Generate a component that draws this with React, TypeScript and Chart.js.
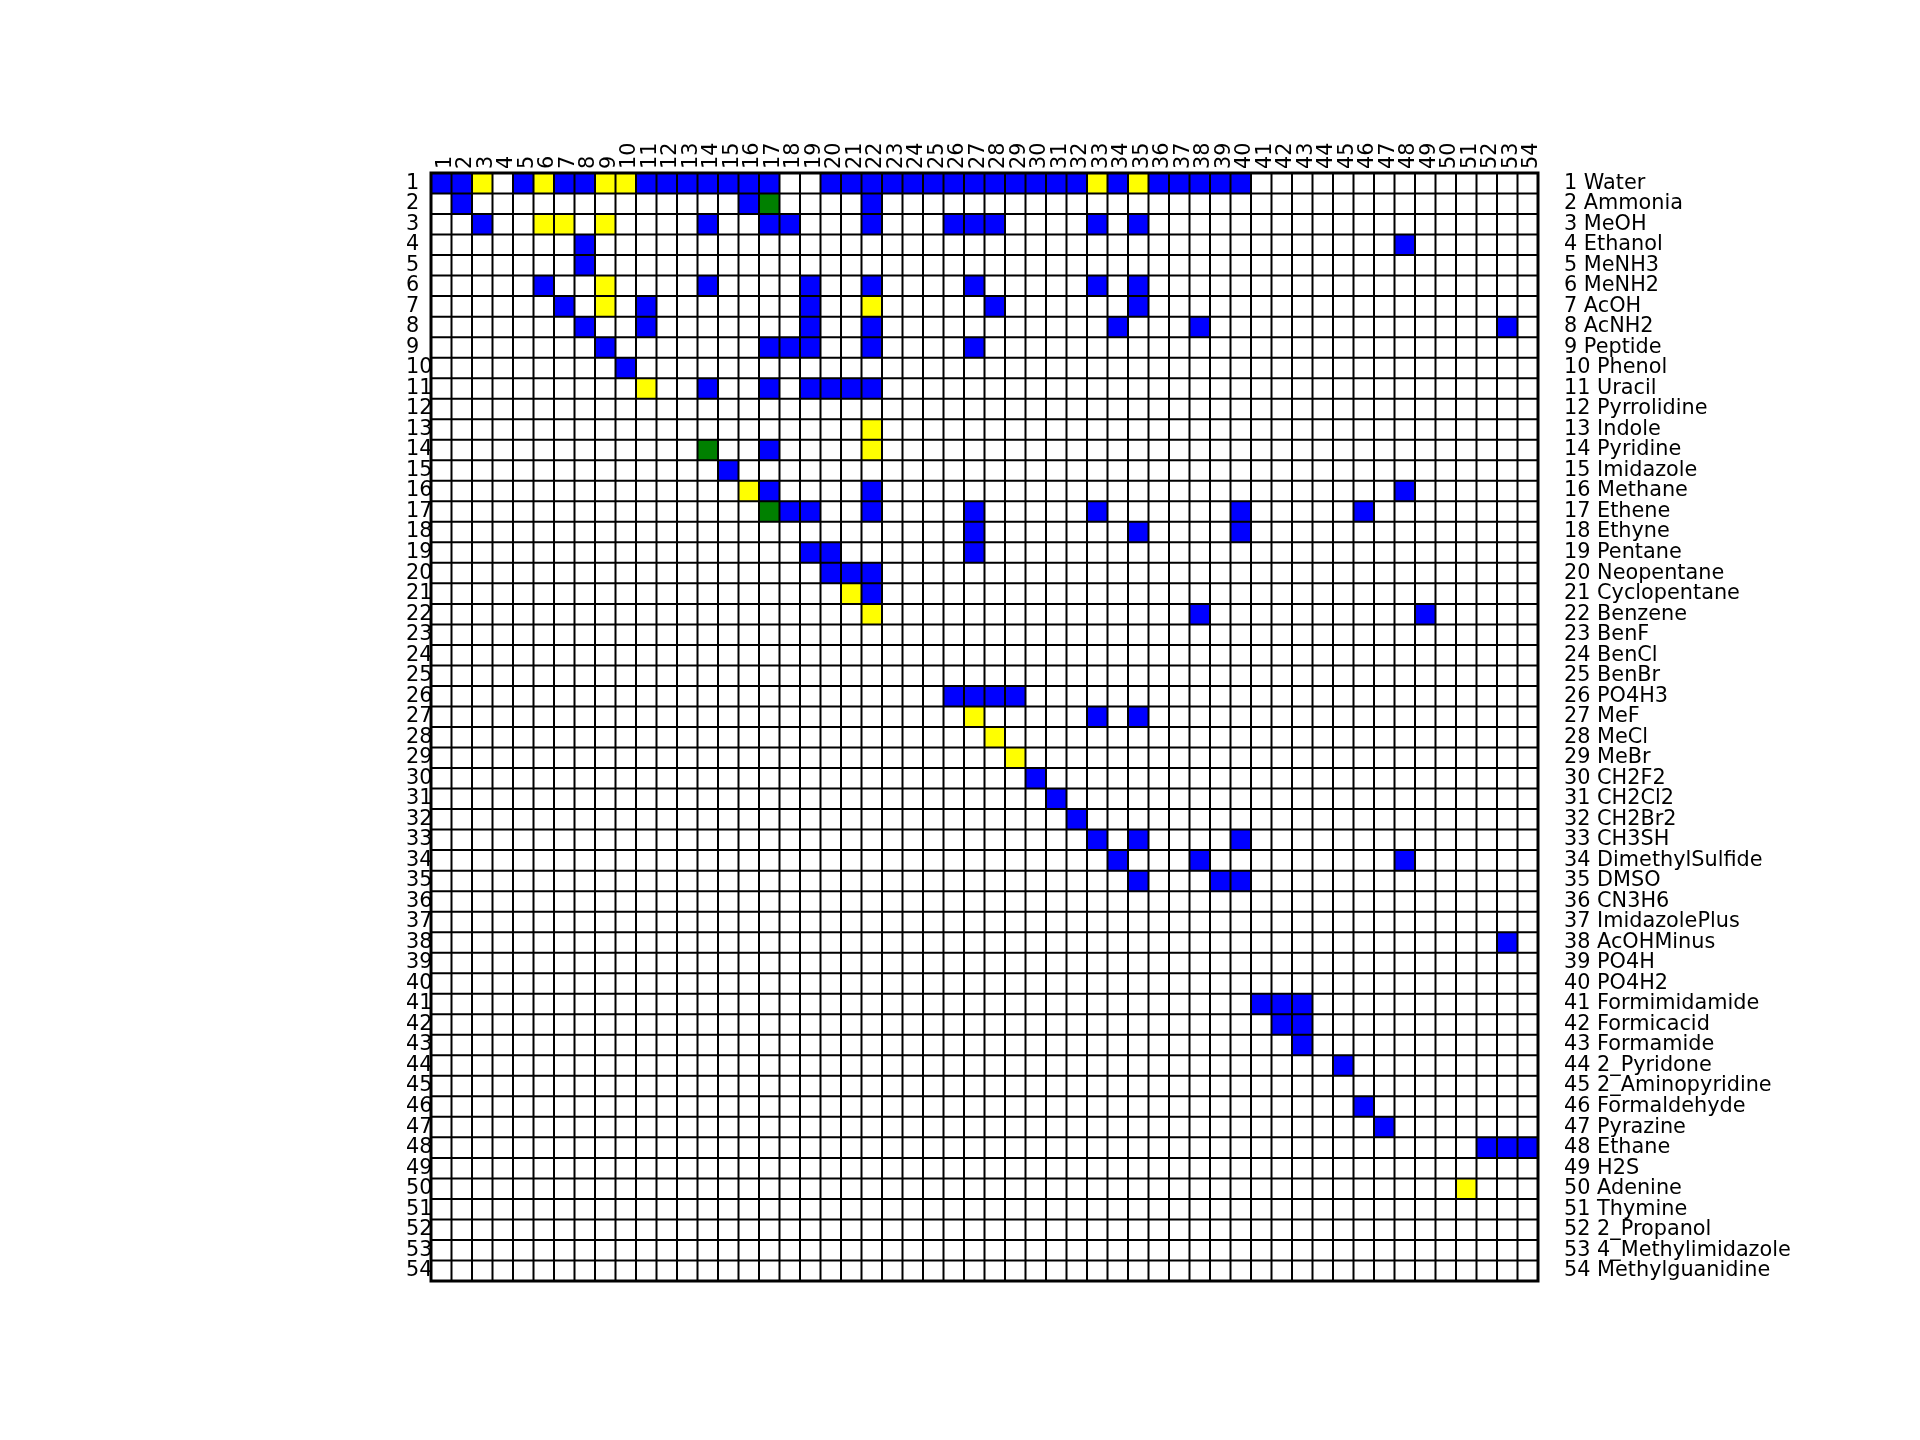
import React, { useEffect, useRef } from "react";
import { Chart, registerables } from "chart.js";

Chart.register(...registerables);

const indexLabels = [
  "1", "2", "3", "4", "5", "6", "7", "8", "9", "10",
  "11", "12", "13", "14", "15", "16", "17", "18", "19", "20",
  "21", "22", "23", "24", "25", "26", "27", "28", "29", "30",
  "31", "32", "33", "34", "35", "36", "37", "38", "39", "40",
  "41", "42", "43", "44", "45", "46", "47", "48", "49", "50",
  "51", "52", "53", "54",
];

const moleculeNames = [
  "Water", "Ammonia", "MeOH", "Ethanol", "MeNH3", "MeNH2", "AcOH", "AcNH2", "Peptide", "Phenol",
  "Uracil", "Pyrrolidine", "Indole", "Pyridine", "Imidazole", "Methane", "Ethene", "Ethyne", "Pentane", "Neopentane",
  "Cyclopentane", "Benzene", "BenF", "BenCl", "BenBr", "PO4H3", "MeF", "MeCl", "MeBr", "CH2F2",
  "CH2Cl2", "CH2Br2", "CH3SH", "DimethylSulfide", "DMSO", "CN3H6", "ImidazolePlus", "AcOHMinus", "PO4H", "PO4H2",
  "Formimidamide", "Formicacid", "Formamide", "2_Pyridone", "2_Aminopyridine", "Formaldehyde", "Pyrazine", "Ethane", "H2S", "Adenine",
  "Thymine", "2_Propanol", "4_Methylimidazole", "Methylguanidine",
];

// [row, columns] of the blue cells
const blueRows: [number, number[]][] = [
  [1, [1, 2, 5, 7, 8, 11, 12, 13, 14, 15, 16, 17, 20, 21, 22, 23, 24, 25, 26, 27, 28, 29, 30, 31, 32, 34, 36, 37, 38, 39, 40]],
  [2, [2, 16, 22]],
  [3, [3, 14, 17, 18, 22, 26, 27, 28, 33, 35]],
  [4, [8, 48]],
  [5, [8]],
  [6, [6, 14, 19, 22, 27, 33, 35]],
  [7, [7, 11, 19, 28, 35]],
  [8, [8, 11, 19, 22, 34, 38, 53]],
  [9, [9, 17, 18, 19, 22, 27]],
  [10, [10]],
  [11, [14, 17, 19, 20, 21, 22]],
  [14, [17]],
  [15, [15]],
  [16, [17, 22, 48]],
  [17, [18, 19, 22, 27, 33, 40, 46]],
  [18, [27, 35, 40]],
  [19, [19, 20, 27]],
  [20, [20, 21, 22]],
  [21, [22]],
  [22, [38, 49]],
  [26, [26, 27, 28, 29]],
  [27, [33, 35]],
  [30, [30]],
  [31, [31]],
  [32, [32]],
  [33, [33, 35, 40]],
  [34, [34, 38, 48]],
  [35, [35, 39, 40]],
  [38, [53]],
  [41, [41, 42, 43]],
  [42, [42, 43]],
  [43, [43]],
  [44, [45]],
  [46, [46]],
  [47, [47]],
  [48, [52, 53, 54]],
];

// [row, columns] of the yellow cells
const yellowRows: [number, number[]][] = [
  [1, [3, 6, 9, 10, 33, 35]],
  [3, [6, 7, 9]],
  [6, [9]],
  [7, [9, 22]],
  [11, [11]],
  [13, [22]],
  [14, [22]],
  [16, [16]],
  [21, [21]],
  [22, [22]],
  [27, [27]],
  [28, [28]],
  [29, [29]],
  [50, [51]],
];

// [row, columns] of the green cells
const greenRows: [number, number[]][] = [
  [2, [17]],
  [14, [14]],
  [17, [17]],
];

const toPoints = (rows: [number, number[]][]) =>
  rows.flatMap(([r, cols]) => cols.map((c) => ({ x: c - 0.5, y: r - 0.5 })));

const FONT = { family: "'DejaVu Sans', sans-serif", size: 20.8, lineHeight: 1.2 };

const centerTicks = (scale: any) => {
  scale.ticks = indexLabels.map((_, i) => ({ value: i + 0.5 }));
};

const cellPlugin = {
  id: "cellGrid",
  beforeDatasetsDraw(chart: any) {
    const ctx = chart.ctx;
    const xs = chart.scales.x;
    const ys = chart.scales.y;
    ctx.save();
    chart.data.datasets.forEach((ds: any) => {
      ctx.fillStyle = ds.backgroundColor;
      ds.data.forEach((p: any) => {
        const x0 = xs.getPixelForValue(p.x - 0.5);
        const x1 = xs.getPixelForValue(p.x + 0.5);
        const y0 = ys.getPixelForValue(p.y - 0.5);
        const y1 = ys.getPixelForValue(p.y + 0.5);
        ctx.fillRect(Math.min(x0, x1), Math.min(y0, y1), Math.abs(x1 - x0), Math.abs(y1 - y0));
      });
    });
    ctx.restore();
  },
  afterDatasetsDraw(chart: any) {
    const ctx = chart.ctx;
    const xs = chart.scales.x;
    const ys = chart.scales.y;
    const n = indexLabels.length;
    const left = xs.getPixelForValue(0);
    const right = xs.getPixelForValue(n);
    const top = ys.getPixelForValue(0);
    const bottom = ys.getPixelForValue(n);
    ctx.save();
    ctx.strokeStyle = "#000000";
    ctx.lineWidth = 2;
    ctx.beginPath();
    for (let i = 1; i < n; i++) {
      const x = xs.getPixelForValue(i);
      ctx.moveTo(x, top);
      ctx.lineTo(x, bottom);
      const y = ys.getPixelForValue(i);
      ctx.moveTo(left, y);
      ctx.lineTo(right, y);
    }
    ctx.stroke();
    ctx.lineWidth = 3;
    ctx.strokeRect(left, top, right - left, bottom - top);
    ctx.restore();
  },
};

export default function App() {
  const ref = useRef<HTMLCanvasElement | null>(null);

  useEffect(() => {
    if (!ref.current) return;
    const n = indexLabels.length;
    const chart = new Chart(ref.current, {
      type: "scatter",
      data: {
        datasets: [
          { label: "blue", data: toPoints(blueRows), backgroundColor: "#0000ff", pointRadius: 0 },
          { label: "yellow", data: toPoints(yellowRows), backgroundColor: "#ffff00", pointRadius: 0 },
          { label: "green", data: toPoints(greenRows), backgroundColor: "#008000", pointRadius: 0 },
        ],
      },
      options: {
        responsive: false,
        animation: false,
        devicePixelRatio: 1,
        layout: { padding: { left: 406, top: 0, right: 0, bottom: 159 } },
        plugins: { legend: { display: false }, tooltip: { enabled: false } },
        scales: {
          x: {
            type: "linear",
            position: "top",
            min: 0,
            max: n,
            afterBuildTicks: centerTicks,
            afterFit: (s: any) => { s.height = 173; },
            grid: { display: false, drawTicks: false, tickLength: 0 },
            border: { display: false },
            ticks: {
              autoSkip: false,
              minRotation: 90,
              maxRotation: 90,
              padding: 4,
              labelOffset: 29,
              color: "#000000",
              font: FONT,
              callback: (_v: any, i: number) => indexLabels[i],
            },
          },
          y: {
            type: "linear",
            position: "left",
            reverse: true,
            min: 0,
            max: n,
            afterBuildTicks: centerTicks,
            afterFit: (s: any) => { s.width = 25; },
            grid: { display: false, drawTicks: false, tickLength: 0 },
            border: { display: false },
            ticks: {
              autoSkip: false,
              padding: 0,
              crossAlign: "far",
              color: "#000000",
              font: FONT,
              callback: (_v: any, i: number) => indexLabels[i],
            },
          },
          y2: {
            type: "linear",
            position: "right",
            reverse: true,
            min: 0,
            max: n,
            afterBuildTicks: centerTicks,
            afterFit: (s: any) => { s.width = 382; },
            grid: { display: false, drawTicks: false, tickLength: 0 },
            border: { display: false },
            ticks: {
              autoSkip: false,
              padding: 26,
              color: "#000000",
              font: FONT,
              callback: (_v: any, i: number) => `${indexLabels[i]} ${moleculeNames[i]}`,
            },
          },
        },
      },
      plugins: [cellPlugin],
    } as any);
    return () => chart.destroy();
  }, []);

  return (
    <div style={{ position: "absolute", left: 0, top: 0, width: 1920, height: 1440, background: "#ffffff" }}>
      <canvas ref={ref} width={1920} height={1440} />
    </div>
  );
}
